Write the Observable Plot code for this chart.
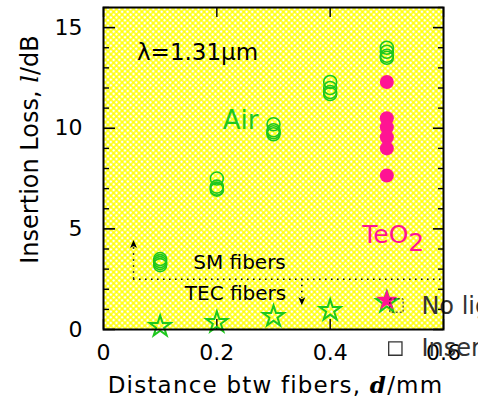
<!DOCTYPE html>
<html>
<head>
<meta charset="utf-8">
<script src="https://cdn.jsdelivr.net/npm/d3@7"></script>
<script src="https://cdn.jsdelivr.net/npm/@observablehq/plot@0.6"></script>
<style>
  html, body { margin: 0; padding: 0; background: #fff; }
  #chart { width: 478px; height: 408px; overflow: hidden; }
</style>
</head>
<body>
<div id="chart"></div>
<script>
// ---- data ----
const xTicks = [0, 0.2, 0.4, 0.6];
const xTickLabels = ["0", "0.2", "0.4", "0.6"];
const yTicks = [0, 5, 10, 15];
const yTickLabels = ["0", "5", "10", "15"];
const yMinorTicks = [1,2,3,4,6,7,8,9,11,12,13,14,16];

// Air (open green circles)
const airD  = [0.1, 0.1, 0.1, 0.1, 0.2, 0.2, 0.2, 0.2, 0.3, 0.3, 0.3, 0.3, 0.4, 0.4, 0.4, 0.4, 0.5, 0.5, 0.5, 0.5];
const airIL = [3.5, 3.4, 3.3, 3.2, 7.5, 7.1, 7.0, 6.95, 10.2, 9.9, 9.8, 9.7, 12.3, 12.0, 11.8, 11.7, 14.0, 13.8, 13.6, 13.5];

// TeO2 (filled magenta circles)
const teoD  = [0.5, 0.5, 0.5, 0.5, 0.5, 0.5];
const teoIL = [12.3, 10.5, 10.05, 9.55, 9.0, 7.65];

// TEC fibers (open green stars)
const tecD  = [0.1, 0.2, 0.3, 0.4, 0.5];
const tecIL = [0.15, 0.35, 0.65, 0.95, 1.35];

// TeO2 with TEC fibers (filled magenta star)
const tecTeoD  = [0.5];
const tecTeoIL = [1.45];

// SM / TEC boundary
const boundaryIL = 2.5;
const boundaryStartD = 0.053;
const tecArrowD = 0.35;

const GREEN = "#1ec81e";
const PINK = "#ff1493";
const FONT = "DejaVu Sans";

const airData = airD.map((d, i) => ({d, il: airIL[i]}));
const teoData = teoD.map((d, i) => ({d, il: teoIL[i]}));
const tecData = tecD.map((d, i) => ({d, il: tecIL[i]}));
const tecTeoData = tecTeoD.map((d, i) => ({d, il: tecTeoIL[i]}));

const innerW = 478 - 103 - 35;
const innerH = 408 - 7 - 79;

const arrowUp = { draw(ctx) { ctx.moveTo(0, -5); ctx.lineTo(3.5, 3); ctx.lineTo(0, 1); ctx.lineTo(-3.5, 3); ctx.closePath(); } };
const arrowDown = { draw(ctx) { ctx.moveTo(0, 5); ctx.lineTo(3.5, -3); ctx.lineTo(0, -1); ctx.lineTo(-3.5, -3); ctx.closePath(); } };

const svg = Plot.plot({
  width: 478,
  height: 408,
  marginTop: 7,
  marginRight: 35,
  marginBottom: 79,
  marginLeft: 103,
  x: { domain: [0, 0.6] },
  y: { domain: [0, 16] },
  style: { fontFamily: FONT, fontSize: "22px", color: "black", background: "white", overflow: "visible" },
  marks: [
    Plot.frame({ fill: "url(#hatch)" }),
    // axes labels (numbers)
    Plot.axisX(xTicks, { tickSize: 0, tickPadding: 15, tickFormat: d => xTickLabels[xTicks.indexOf(d)], fontSize: 22, label: null }),
    Plot.axisY(yTicks, { tickSize: 0, tickPadding: 21, tickFormat: d => yTickLabels[yTicks.indexOf(d)], fontSize: 22, label: null }),
    // inward tick marks
    Plot.tickY(yTicks, { y: d => d, insetRight: innerW - 12, stroke: "black", strokeWidth: 1.6 }),
    Plot.tickY(yMinorTicks, { y: d => d, insetRight: innerW - 6, stroke: "black", strokeWidth: 1.4 }),
    Plot.tickY(yTicks, { y: d => d, insetLeft: innerW - 10, stroke: "black", strokeWidth: 1.6 }),
    Plot.tickY(yMinorTicks, { y: d => d, insetLeft: innerW - 5, stroke: "black", strokeWidth: 1.4 }),
    Plot.tickX(xTicks, { x: d => d, insetTop: innerH - 10, stroke: "black", strokeWidth: 1.4 }),
    Plot.tickX(xTicks, { x: d => d, insetBottom: innerH - 10, stroke: "black", strokeWidth: 1.4 }),
    // boundary dotted lines
    Plot.ruleY([boundaryIL], { x1: boundaryStartD, x2: 0.6, stroke: "black", strokeWidth: 1.5, strokeDasharray: "1.5,4.5" }),
    Plot.ruleX([boundaryStartD], { y1: boundaryIL, y2: 4.1, stroke: "black", strokeWidth: 1.5, strokeDasharray: "1.5,4.5" }),
    Plot.dot([boundaryStartD], { x: d => d, y: () => 4.2, symbol: arrowUp, fill: "black", stroke: "none" }),
    Plot.ruleX([tecArrowD], { y1: boundaryIL, y2: 1.55, stroke: "black", strokeWidth: 1.5, strokeDasharray: "1.5,4.5" }),
    Plot.dot([tecArrowD], { x: d => d, y: () => 1.45, symbol: arrowDown, fill: "black", stroke: "none" }),
    Plot.text(["SM fibers"], { x: () => 0.240, y: () => 3.3, fontSize: 20, fill: "black" }),
    Plot.text(["TEC fibers"], { x: () => 0.233, y: () => 1.8, fontSize: 20, fill: "black" }),
    // data
    Plot.dot(airData, { x: "d", y: "il", r: 6.5, stroke: GREEN, strokeWidth: 1.6, fill: "none" }),
    Plot.dot(teoData, { x: "d", y: "il", r: 7, fill: PINK, stroke: "none" }),
    Plot.dot(tecData, { x: "d", y: "il", r: 6.6, symbol: "star", stroke: GREEN, strokeWidth: 2, fill: "none" }),
    Plot.dot(tecTeoData, { x: "d", y: "il", r: 6.8, symbol: "star", fill: PINK, stroke: "none" }),
    // annotations
    Plot.text(["λ=1.31μm"], { x: () => 0.166, y: () => 13.75, fontSize: 23, fill: "black" }),
    Plot.text(["Air"], { x: () => 0.242, y: () => 10.4, fontSize: 26, fill: GREEN }),
    Plot.text(["TeO"], { x: () => 0.538, y: () => 4.7, fontSize: 25, fill: PINK, textAnchor: "end" }),
    Plot.text(["2"], { x: () => 0.538, y: () => 4.7, dy: 8, fontSize: 25, fill: PINK, textAnchor: "start" }),
    // overflowing legend
    Plot.dot([0], { x: () => 0.517, y: () => 1.19, symbol: "square", r: 7.5, stroke: "#222", strokeWidth: 1, strokeDasharray: "2,2", fill: "none" }),
    Plot.text(["No light"], { x: () => 0.561, y: () => 1.15, fontSize: 24, fill: "#333", textAnchor: "start" }),
    Plot.dot([0], { x: () => 0.515, y: () => -0.95, symbol: "square", r: 7.5, stroke: "#333", strokeWidth: 1.3, fill: "none" }),
    Plot.text(["Insertion"], { x: () => 0.561, y: () => -0.95, fontSize: 24, fill: "#333", textAnchor: "start" }),
    // frame outline
    Plot.frame({ stroke: "black", strokeWidth: 2 }),
    // axis titles
    Plot.text(["Insertion Loss, l/dB"], { frameAnchor: "left", textAnchor: "middle", lineAnchor: "middle", dx: -73, dy: -19, rotate: -90, fontSize: 24, fill: "black", className: "ylab" }),
    Plot.text(["Distance btw fibers, d/mm"], { frameAnchor: "bottom", textAnchor: "middle", lineAnchor: "middle", dx: 2, dy: 56, fontSize: 23, fill: "black", className: "xlab" })
  ]
});

const sel = d3.select(svg);
sel.insert("defs", ":first-child").html(
  '<pattern id="hatch" width="4" height="4" patternUnits="userSpaceOnUse" patternTransform="rotate(45)">' +
  '<rect width="4" height="4" fill="#ffff00"/>' +
  '<rect x="0.75" y="0.75" width="2.5" height="2.5" fill="#ffffff"/>' +
  '</pattern>'
);
sel.select("g.ylab text").html('Insertion Loss, <tspan font-family="DejaVu Serif" font-style="italic">l</tspan>/dB');
sel.select("g.xlab text").attr("letter-spacing", "1.2px")
  .html('Distance btw fibers, <tspan font-family="DejaVu Serif" font-style="italic" font-weight="bold">d</tspan>/mm');

document.getElementById("chart").appendChild(svg);
</script>
</body>
</html>
